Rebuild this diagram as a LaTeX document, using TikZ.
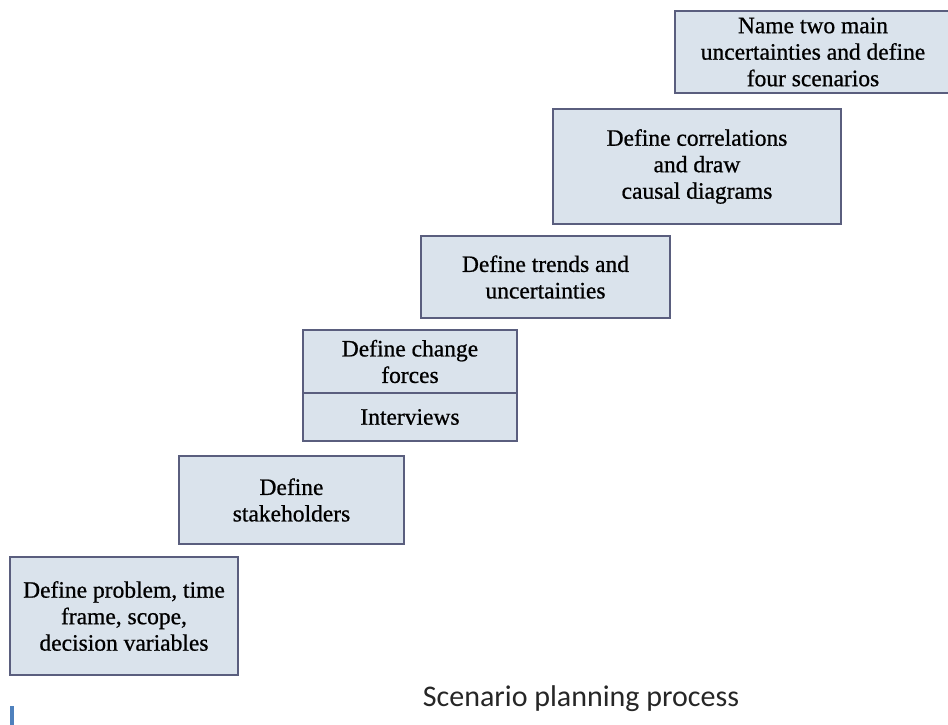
\documentclass[tikz,border=0pt]{standalone}
\usepackage{fontspec}
\setmainfont{Liberation Serif}[FakeBold=0.8]
\newfontfamily\captionfont{Carlito}
\definecolor{boxfill}{HTML}{DAE3EC}
\definecolor{boxline}{HTML}{5A5E7E}
\definecolor{markblue}{HTML}{4F81BD}
\tikzset{
  stepbox/.style={draw=boxline, line width=2.5pt, fill=boxfill, rectangle,
    inner sep=0pt, align=center, font=\fontsize{23.5}{26.5}\selectfont},
}
\begin{document}
\begin{tikzpicture}[x=1pt,y=-1pt]
\useasboundingbox (0,0) rectangle (948,725);
\begin{scope}
\clip (0,0) rectangle (948,725);
% staircase of process steps (corners in px, y downward)
\node[stepbox, minimum width=228, minimum height=118] (s1) at (124,616)
  {Define problem, time\\frame, scope,\\decision variables};
\node[stepbox, minimum width=225, minimum height=88] (s2) at (291.5,500)
  {Define\\stakeholders};
\node[stepbox, minimum width=214, minimum height=63] (s3) at (410,361.5)
  {Define change\\forces};
\node[stepbox, minimum width=214, minimum height=48, anchor=north] (s3b) at ([yshift=2.5]s3.south)
  {Interviews};
\node[stepbox, minimum width=249, minimum height=82] (s4) at (545.5,277)
  {Define trends and\\uncertainties};
\node[stepbox, minimum width=288, minimum height=115] (s5) at (697,166.5)
  {Define correlations\\and draw\\causal diagrams};
\node[stepbox, minimum width=276, minimum height=82] (s6) at (813,52)
  {Name two main\\uncertainties and define\\four scenarios};
\end{scope}
% caption and marker
\node[font=\captionfont\fontsize{30}{34}\selectfont, text=black!85] (cap) at (581,699)
  {Scenario planning process};
\fill[markblue] (10,706) rectangle (14,725);
\end{tikzpicture}
\end{document}
